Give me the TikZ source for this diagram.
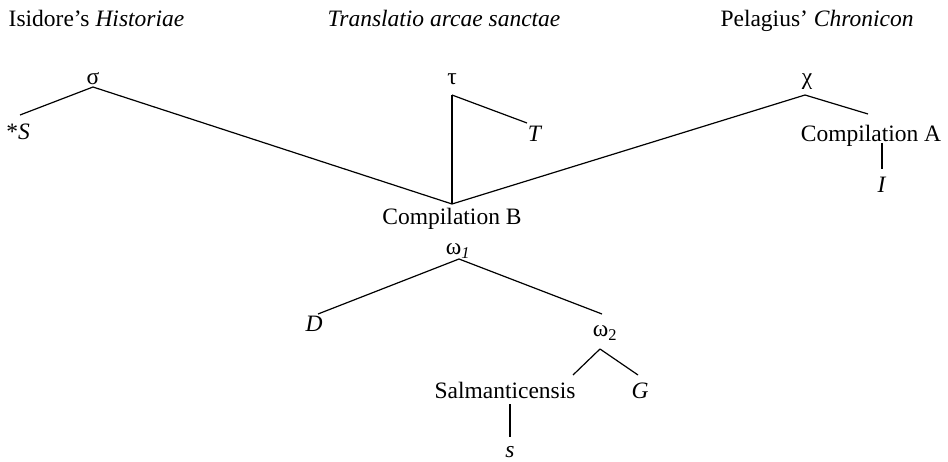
\documentclass[tikz,border=0pt]{standalone}
\usepackage{fontspec}
\setmainfont{Liberation Serif}
\begin{document}
\begin{tikzpicture}[x=1pt,y=-1pt,
    lbl/.style={inner sep=0pt, anchor=base, font=\fontsize{23.5}{28}\selectfont},
    edge/.style={line width=1.2pt}]
\useasboundingbox (0,0) rectangle (948,462);

% column headings
\node[lbl] (isid)  at (96.5,27) {Isidore’s \textit{Historiae}};
\node[lbl] (trans) at (444,27)  {\textit{Translatio arcae sanctae}};
\node[lbl] (pelag) at (817,27)  {Pelagius’ \textit{Chronicon}};

% upper level
\node[lbl] (sigma) at (93,85)   {σ};
\node[lbl] (tau)   at (452,85)  {τ};
\node[lbl] (chi)   at (807,85)  {χ};
\node[lbl] (Sstar) at (18,140)  {*\textit{S}};
\node[lbl] (T)     at (535,142) {\textit{T}};
\node[lbl] (compA) at (871,142) {Compilation A};
\node[lbl] (I)     at (882,193) {\textit{I}};
\node[lbl] (compB) at (452,225) {Compilation B};

% lower level
\node[lbl] (om1)   at (458,255) {ω\textsubscript{\textit{1}}};
\node[lbl] (D)     at (314,331) {\textit{D}};
\node[lbl] (om2)   at (605,337) {ω\textsubscript{2}};
\node[lbl] (salm)  at (505,398) {Salmanticensis};
\node[lbl] (G)     at (640,398) {\textit{G}};
\node[lbl] (s)     at (510,457) {\textit{s}};

% stemma branches
\draw[edge] ([shift={(0,2)}]sigma.base) -- ([shift={(2,-25)}]Sstar.base);
\draw[edge] ([shift={(0,2)}]sigma.base) -- ([shift={(0,-21)}]compB.base);
\draw[edge] ([shift={(0,10)}]tau.base) -- ([shift={(0,-21)}]compB.base);
\draw[edge] ([shift={(0,10)}]tau.base) -- ([shift={(-8,-19)}]T.base);
\draw[edge] ([shift={(-2,10)}]chi.base) -- ([shift={(0,-21)}]compB.base);
\draw[edge] ([shift={(-2,10)}]chi.base) -- ([shift={(-3,-28)}]compA.base);
\draw[edge] ([shift={(11,1)}]compA.base) -- ([shift={(0,-24)}]I.base);
\draw[edge] ([shift={(1,4)}]om1.base) -- ([shift={(4,-17)}]D.base);
\draw[edge] ([shift={(1,4)}]om1.base) -- ([shift={(-3,-23)}]om2.base);
\draw[edge] ([shift={(-5,12)}]om2.base) -- ([shift={(68,-23)}]salm.base);
\draw[edge] ([shift={(-5,12)}]om2.base) -- ([shift={(-2,-23)}]G.base);
\draw[edge] ([shift={(5,6)}]salm.base) -- ([shift={(0,-20)}]s.base);
\end{tikzpicture}
\end{document}
